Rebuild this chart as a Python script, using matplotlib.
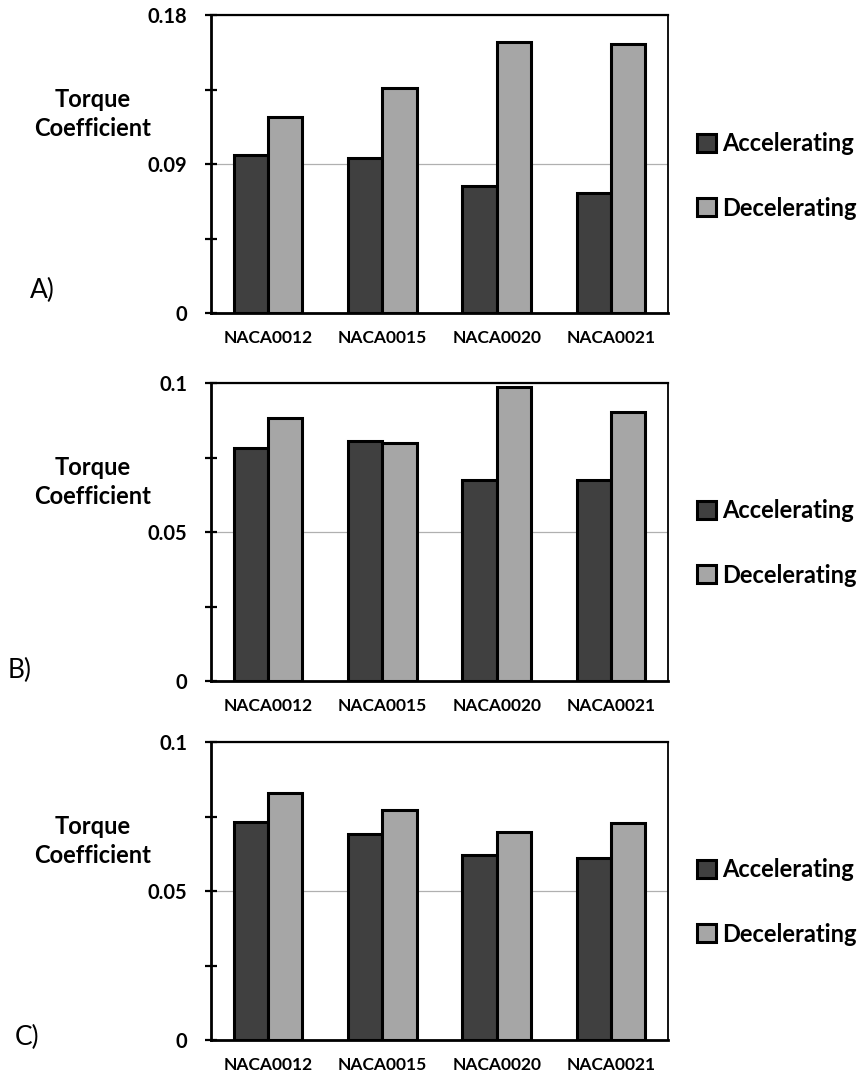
import matplotlib
matplotlib.use("Agg")
import matplotlib.pyplot as plt
import numpy as np

plt.rcParams['font.family'] = ['Lato', 'DejaVu Sans']

airfoils = ['NACA0012', 'NACA0015', 'NACA0020', 'NACA0021']
series = ['Accelerating', 'Decelerating']

# torque coefficient
accel_a = [0.0954, 0.0936, 0.0767, 0.0725]
decel_a = [0.1184, 0.1359, 0.1637, 0.1625]
accel_b = [0.0782, 0.0805, 0.0674, 0.0674]
decel_b = [0.0883, 0.0799, 0.0987, 0.0903]
accel_c = [0.0732, 0.0691, 0.0621, 0.0611]
decel_c = [0.0829, 0.0772, 0.0698, 0.0728]

ymax = [0.18, 0.1, 0.1]
major_a = [0, 0.09, 0.18]
major_bc = [0, 0.05, 0.1]
tick_labels_a = ['0', '0.09', '0.18']
tick_labels_bc = ['0', '0.05', '0.1']
letters = ['A)', 'B)', 'C)']

dark = '#404040'
light = '#a6a6a6'

W, H = 861, 1077
fig = plt.figure(figsize=(W / 100, H / 100), dpi=100)

def fx(px):
    return px / W

def fy(py):
    return 1 - py / H

# axes boxes in pixel coords: top, bottom
boxes = [(15, 313), (383, 681), (742, 1040)]
left_px, right_px = 211, 668

panels = [
    (accel_a, decel_a, major_a, tick_labels_a),
    (accel_b, decel_b, major_bc, tick_labels_bc),
    (accel_c, decel_c, major_bc, tick_labels_bc),
]

x = np.arange(len(airfoils))
w = 0.3

for i, (acc, dec, majors, mlabels) in enumerate(panels):
    top, bot = boxes[i]
    ax = fig.add_axes([fx(left_px), fy(bot), fx(right_px - left_px), (bot - top) / H])
    ax.bar(x - w / 2, acc, w, color=dark, edgecolor='black', linewidth=2.2, label=series[0], zorder=3)
    ax.bar(x + w / 2, dec, w, color=light, edgecolor='black', linewidth=2.2, label=series[1], zorder=3)
    ax.set_xlim(-0.5, 3.5)
    ax.set_ylim(0, ymax[i])

    ax.set_yticks(majors)
    ax.set_yticklabels(mlabels)
    ax.set_yticks([ymax[i] / 4, ymax[i] * 3 / 4], minor=True)
    ax.tick_params(axis='y', which='both', direction='inout', length=8, width=1.6, pad=13,
                   labelsize=14.5)
    for t in ax.get_yticklabels():
        t.set_fontweight('bold')
    ax.set_xticks(x)
    ax.set_xticklabels(airfoils, fontsize=12.5, fontweight='bold')
    ax.tick_params(axis='x', length=0, pad=12)

    ax.yaxis.grid(True, which='major', color='#b0b0b0', linewidth=0.9, zorder=0)
    ax.set_axisbelow(True)

    ax.spines['left'].set_linewidth(2.0)
    ax.spines['bottom'].set_linewidth(2.0)
    ax.spines['top'].set_linewidth(1.6)
    ax.spines['right'].set_linewidth(1.3)
    for s in ax.spines.values():
        s.set_zorder(4)

    fig.text(fx(93), fy(top + 99), 'Torque\nCoefficient', ha='center', va='center',
             fontsize=17, fontweight='bold', linespacing=1.35)

    letter_pos = [(30, 290), (8, 670), (15, 1037)][i]
    fig.text(fx(letter_pos[0]), fy(letter_pos[1]), letters[i], ha='left', va='center',
             fontsize=19)

    leg_y = [176, 543, 902][i]
    ax.legend(loc='center left', bbox_to_anchor=(fx(697), fy(leg_y)),
              bbox_transform=fig.transFigure, frameon=False,
              prop={'weight': 'bold', 'size': 17},
              handlelength=0.8, handleheight=0.8, handletextpad=0.25,
              labelspacing=1.75, borderpad=0, borderaxespad=0)

plt.savefig('out.png', dpi=100)
